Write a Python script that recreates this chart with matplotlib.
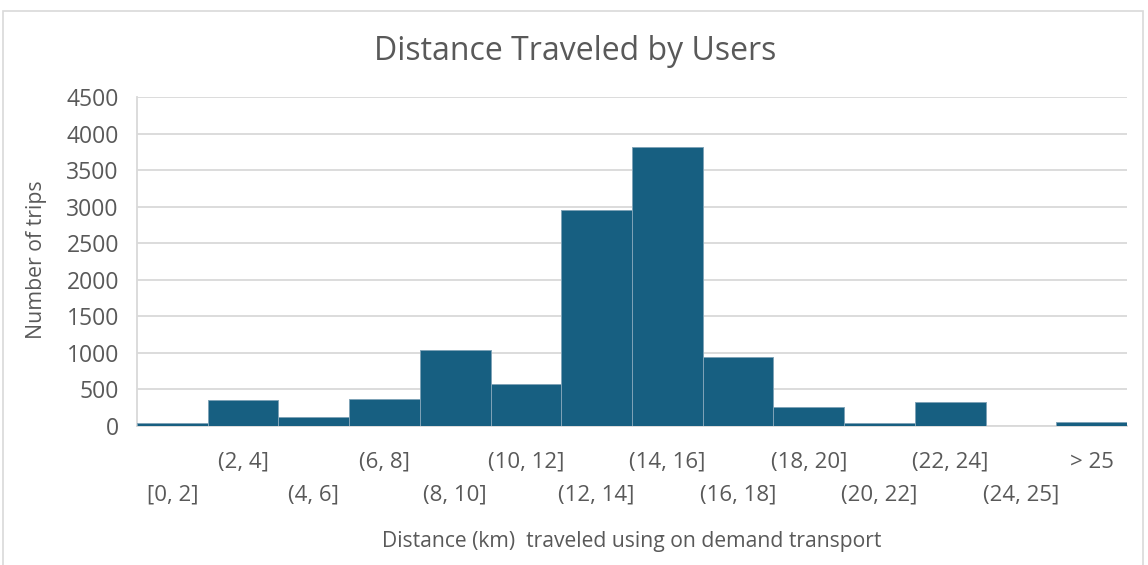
import matplotlib
matplotlib.use("Agg")
import matplotlib.pyplot as plt
import matplotlib.transforms as mtransforms
from matplotlib.patches import Rectangle

# trip counts per distance bin
bins = ["[0, 2]", "(2, 4]", "(4, 6]", "(6, 8]", "(8, 10]", "(10, 12]", "(12, 14]",
        "(14, 16]", "(16, 18]", "(18, 20]", "(20, 22]", "(22, 24]", "(24, 25]", "> 25"]
trips = [40, 355, 120, 375, 1035, 580, 2955, 3825, 945, 255, 45, 330, 0, 60]
yticks = [0, 500, 1000, 1500, 2000, 2500, 3000, 3500, 4000, 4500]

plt.rcParams["font.family"] = ["Open Sans", "DejaVu Sans"]
txt = "#595959"

fig = plt.figure(figsize=(11.48, 5.65), dpi=100)
ax = fig.add_axes([0.1193, 0.246, 0.8624, 0.582])

# light frame around the whole chart
fig.patches.append(Rectangle((3 / 1148, -0.02), 1140 / 1148, 1.0005 - 11 / 565 + 0.02,
                             transform=fig.transFigure, fill=False,
                             edgecolor="#d9d9d9", linewidth=1.2))

x = list(range(len(bins)))
ax.bar(x, trips, width=1.0, color="#175f81", edgecolor="#7fa3b7", linewidth=0.7, zorder=3)

ax.set_xlim(-0.5, len(bins) - 0.5)
ax.set_ylim(0, 4500)
ax.set_yticks(yticks)
ax.yaxis.grid(True, color="#d9d9d9", linewidth=1.3, zorder=0)
ax.tick_params(axis="y", length=0, pad=13, labelsize=16.5, labelcolor=txt)
ax.set_xticks([])
for side in ["top", "right"]:
    ax.spines[side].set_visible(False)
ax.spines["left"].set_color("#d9d9d9")
ax.spines["left"].set_linewidth(1.3)
ax.spines["bottom"].set_color("#d9d9d9")
ax.spines["bottom"].set_linewidth(1.3)

# staggered bin labels below the bars
trans = mtransforms.blended_transform_factory(ax.transData, ax.transAxes)
for i, lab in enumerate(bins):
    ypos = -0.11 if i % 2 else -0.21
    ax.text(i, ypos, lab, transform=trans, ha="center", va="center",
            fontsize=16, color=txt)

fig.text(0.501, 0.909, "Distance Traveled by Users", ha="center", va="center",
         fontsize=23, color=txt)
fig.text(0.032, 0.54, "Number of trips", rotation=90, ha="center", va="center",
         fontsize=15.3, color=txt)
fig.text(0.55, 0.041, "Distance (km)  traveled using on demand transport",
         ha="center", va="center", fontsize=15.2, color=txt)

fig.savefig("out.png", dpi=100, facecolor="white")
